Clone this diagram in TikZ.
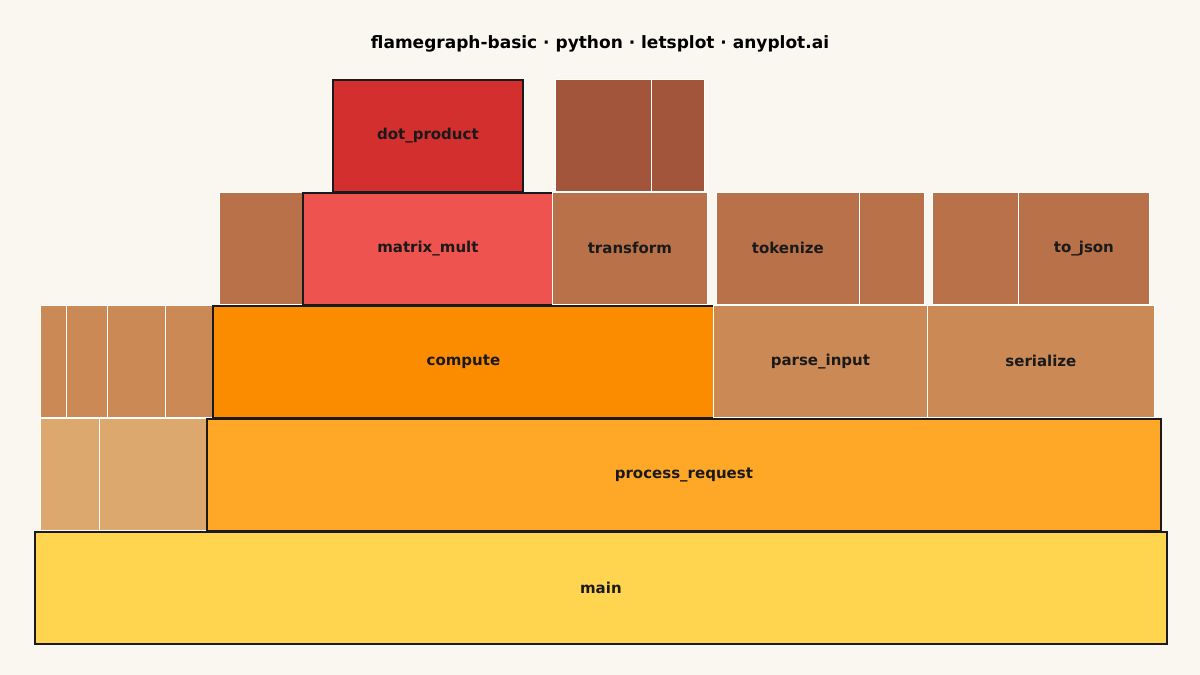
\documentclass[tikz,border=0pt]{standalone}
\usepackage{fontspec}
\setmainfont{DejaVu Sans}
\definecolor{bgcol}{HTML}{FAF7F1}
\definecolor{mainc}{HTML}{FFD54F}
\definecolor{procc}{HTML}{FFA726}
\definecolor{compc}{HTML}{FB8C00}
\definecolor{matc}{HTML}{EF5350}
\definecolor{dotc}{HTML}{D32F2F}
\definecolor{lvla}{HTML}{DDA86E}
\definecolor{lvlb}{HTML}{CB8A55}
\definecolor{lvlc}{HTML}{B87148}
\definecolor{lvld}{HTML}{A3553B}
\definecolor{ink}{HTML}{1A1A1A}
\tikzset{
  cell/.style={draw=white, line width=0.8pt, anchor=north west, inner sep=0pt,
    minimum height=112pt, font=\bfseries\fontsize{15}{18}\selectfont, text=ink},
  hot/.style={cell, draw=ink, line width=1.8pt}
}
\begin{document}
\begin{tikzpicture}[x=1pt,y=-1pt]
\fill[bgcol] (0,0) rectangle (1200,675);
\useasboundingbox (0,0) rectangle (1200,675);
\node (title) at (600,44) {\bfseries\fontsize{17}{20}\selectfont flamegraph-basic · python · letsplot · anyplot.ai};

% level 0
\node (main) [hot, fill=mainc, minimum width=1132pt] at (34,531) {main};
% level 1
\node (a1) [cell, fill=lvla, minimum width=59pt] at (40,418) {};
\node (a2) [cell, fill=lvla, minimum width=107pt] at (99,418) {};
\node (proc) [hot, fill=procc, minimum width=954pt] at (206,418) {process\_request};
% level 2
\node (b1) [cell, fill=lvlb, minimum width=26pt] at (40,305) {};
\node (b2) [cell, fill=lvlb, minimum width=41pt] at (66,305) {};
\node (b3) [cell, fill=lvlb, minimum width=58pt] at (107,305) {};
\node (b4) [cell, fill=lvlb, minimum width=47pt] at (165,305) {};
\node (comp) [hot, fill=compc, minimum width=501pt] at (212,305) {compute};
\node (parse) [cell, fill=lvlb, minimum width=214pt] at (713,305) {parse\_input};
\node (ser) [cell, fill=lvlb, minimum width=227pt] at (927,305) {serialize};
% level 3
\node (c1) [cell, fill=lvlc, minimum width=83pt] at (219,192) {};
\node (mat) [hot, fill=matc, minimum width=250pt] at (302,192) {matrix\_mult};
\node (trans) [cell, fill=lvlc, minimum width=155pt] at (552,192) {transform};
\node (tok) [cell, fill=lvlc, minimum width=143pt] at (716,192) {tokenize};
\node (c2) [cell, fill=lvlc, minimum width=65pt] at (859,192) {};
\node (c3) [cell, fill=lvlc, minimum width=86pt] at (932,192) {};
\node (json) [cell, fill=lvlc, minimum width=131pt] at (1018,192) {to\_json};
% level 4
\node (dot) [hot, fill=dotc, minimum width=190pt] at (332,79) {dot\_product};
\node (d1) [cell, fill=lvld, minimum width=96pt] at (555,79) {};
\node (d2) [cell, fill=lvld, minimum width=53pt] at (651,79) {};
\end{tikzpicture}
\end{document}
